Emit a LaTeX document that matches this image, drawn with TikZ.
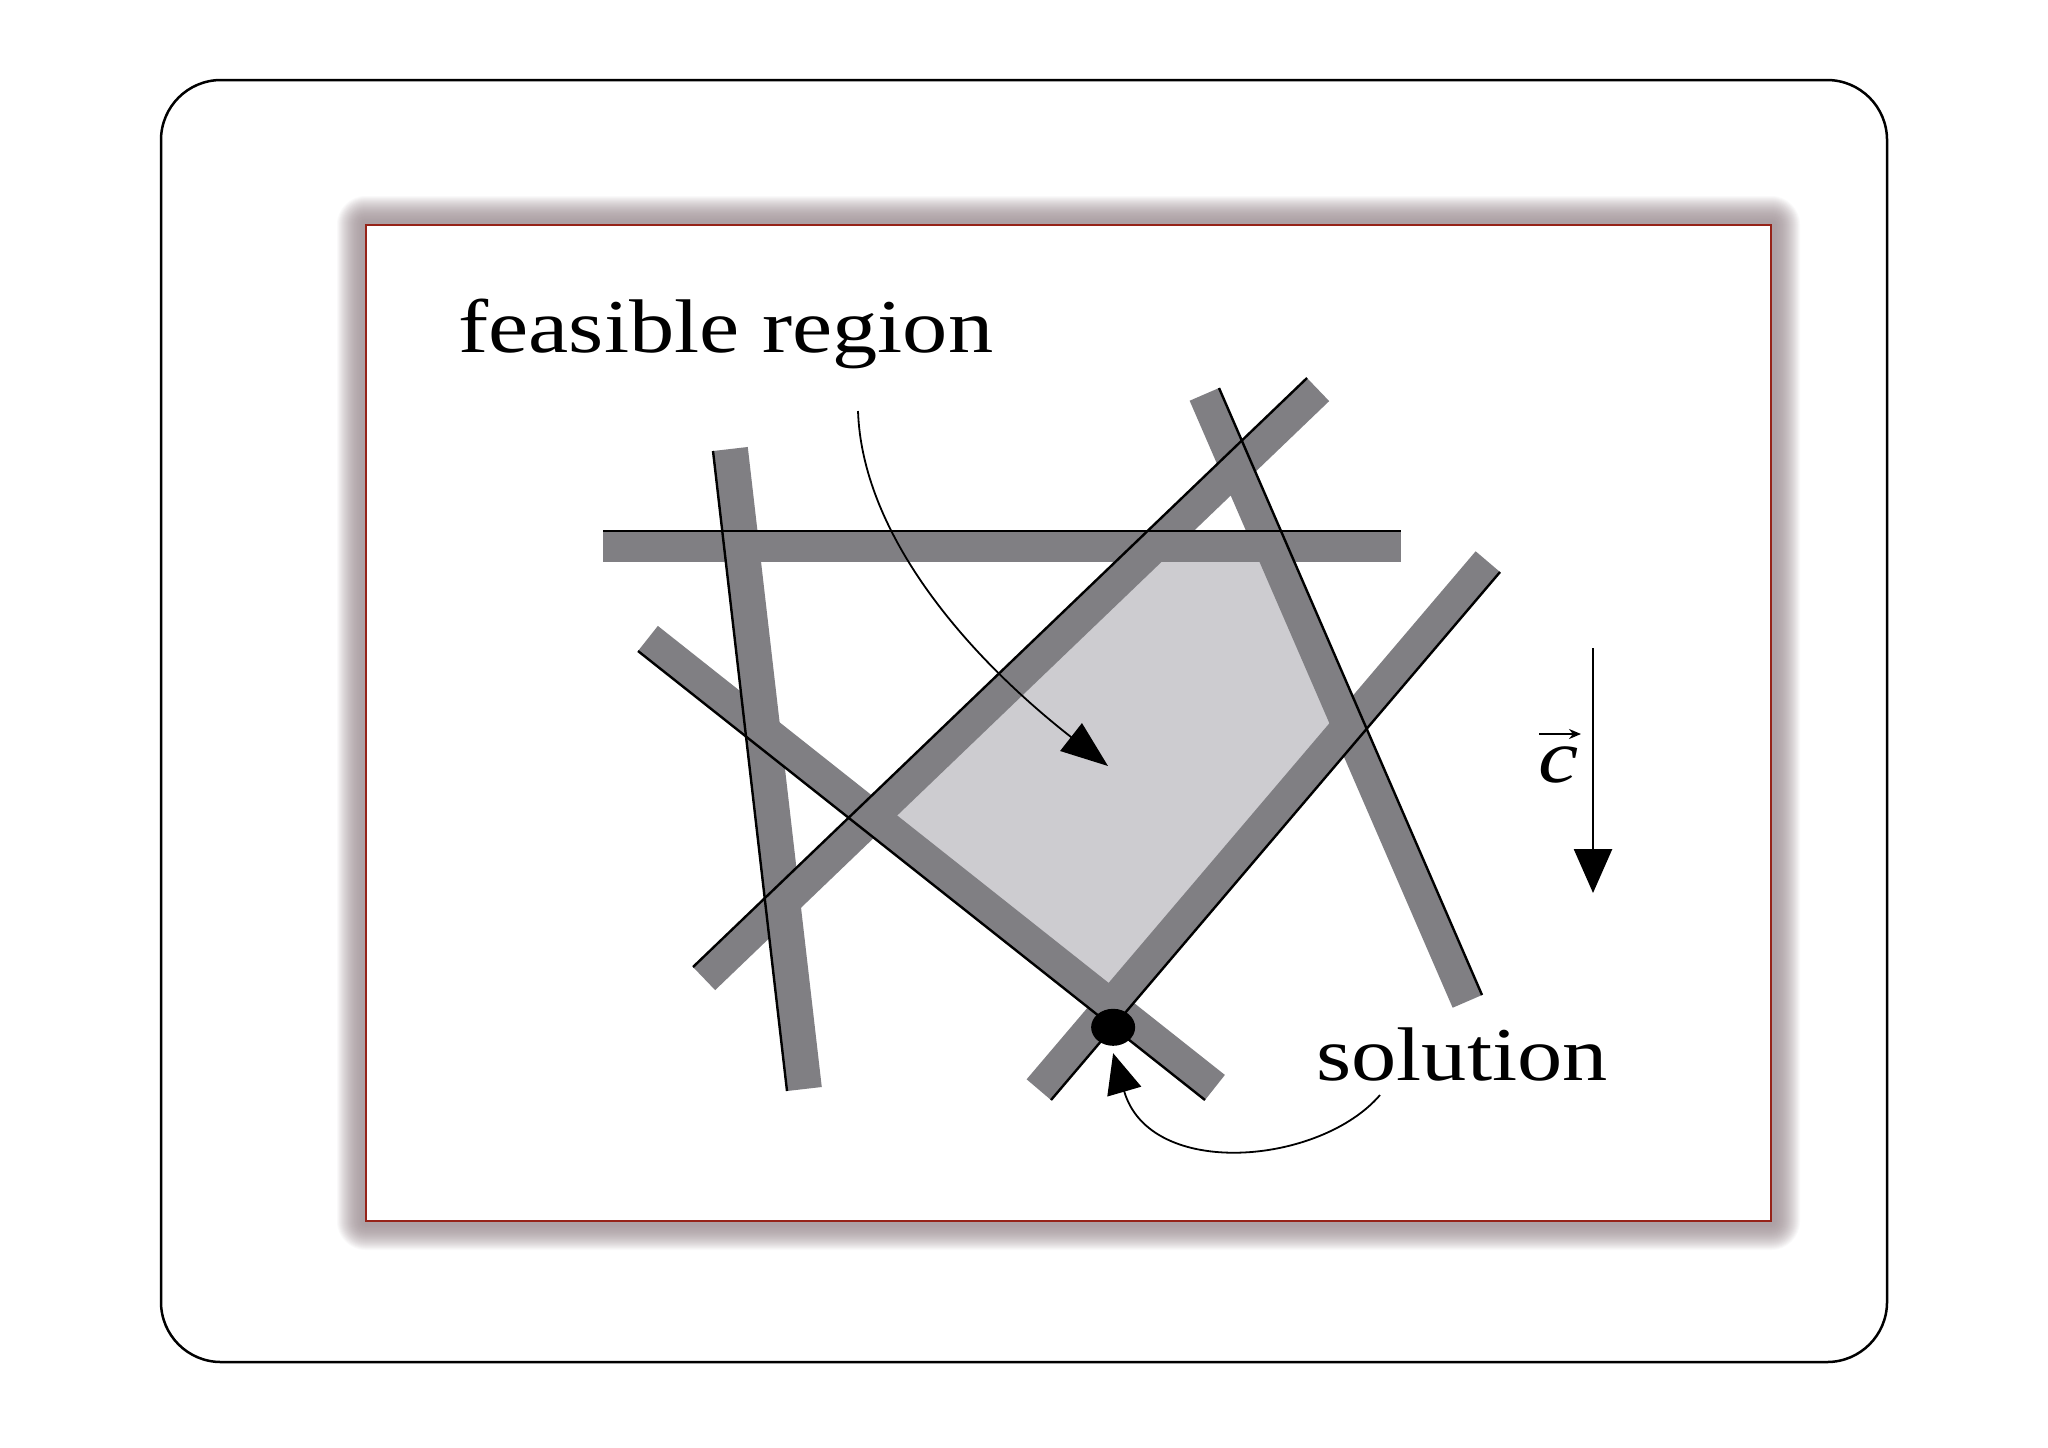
\documentclass[tikz,border=0pt]{standalone}
\usepackage{fontspec}
\setmainfont{Liberation Serif}
\usetikzlibrary{calc,arrows.meta,shapes.geometric}
\definecolor{shc}{RGB}{172,160,164}
\definecolor{framered}{RGB}{150,35,25}
\definecolor{bandc}{RGB}{128,127,131}
\definecolor{regionc}{RGB}{205,204,208}
\tikzset{
  lbl/.style={inner sep=0pt, font=\fontsize{38pt}{40pt}\selectfont},
  edgeline/.style={line width=1.2pt, black},
  pointer/.style={line width=0.9pt},
}
% band: P1, P2, angle, -angle, width
\newcommand\lpband[5]{%
  \fill[bandc] (#1) -- (#2) -- ($(#2)!#5!#3:(#1)$) -- ($(#1)!#5!#4:(#2)$) -- cycle;}
\begin{document}
\begin{tikzpicture}[x=0.5pt,y=-0.5pt]
\useasboundingbox (0,0) rectangle (2048,1447);
\fill[white] (0,0) rectangle (2048,1447);
% outer frame
\draw[line width=1.25pt, rounded corners=30pt] (161,80) rectangle (1887,1362);
% glow around picture
\foreach \k in {30,29,...,1}{%
  \pgfmathtruncatemacro\p{100*(1-(\k/30)^2)}
  \pgfmathsetmacro\r{0.5*\k}
  \fill[shc!\p!white, rounded corners=\r pt] (366-\k,225-\k) rectangle (1771+\k,1221+\k);
}
\fill[white] (366,225) rectangle (1771,1221);
\draw[framered, line width=1.3pt] (366,225) rectangle (1771,1221);
% constraint lines
\coordinate (h1) at (603,531);  \coordinate (h2) at (1401,531);
\coordinate (l1) at (713,451);  \coordinate (l2) at (787,1091);
\coordinate (d1) at (638,651);  \coordinate (d2) at (1205,1100);
\coordinate (u1) at (693,967);  \coordinate (u2) at (1307,378);
\coordinate (s1) at (1219,388); \coordinate (s2) at (1482,995);
\coordinate (w1) at (1051,1100); \coordinate (w2) at (1500,572);
% feasible region
\fill[regionc] (intersection of u1--u2 and h1--h2) -- (intersection of h1--h2 and s1--s2)
  -- (intersection of s1--s2 and w1--w2) -- (intersection of w1--w2 and d1--d2)
  -- (intersection of d1--d2 and u1--u2) -- cycle;
% bands
\lpband{h1}{h2}{90}{-90}{15.5pt}
\lpband{l1}{l2}{-90}{90}{17.5pt}
\lpband{d1}{d2}{-90}{90}{16pt}
\lpband{u1}{u2}{90}{-90}{16pt}
\lpband{s1}{s2}{90}{-90}{16pt}
\lpband{w1}{w2}{-90}{90}{16pt}
% black lines
\draw[edgeline] (h1) -- (h2);
\draw[edgeline] (l1) -- (l2);
\draw[edgeline] (d1) -- (d2);
\draw[edgeline] (u1) -- (u2);
\draw[edgeline] (s1) -- (s2);
\draw[edgeline] (w1) -- (w2);
% solution dot
\node[ellipse, fill=black, minimum width=22pt, minimum height=18.5pt, inner sep=0pt] (sol)
  at (intersection of w1--w2 and d1--d2) {};
% labels
\node[lbl, anchor=base west] (ftext) at (458,352) {\scalebox{1.19}[1]{feasible region}};
\node[lbl, anchor=base west] (stext) at (1316,1080) {\scalebox{1.19}[1]{solution}};
\node[lbl, anchor=base west] (ctext) at (1538,782) {\scalebox{1.19}[1]{\itshape c}};
\draw[line width=1.1pt, -{Stealth[length=6pt,width=5pt]}]
  ($(ctext.base west)+(1,-48)$) -- ($(ctext.base west)+(43,-48)$);
% objective arrow
\coordinate (ctop) at (1593,648);
\coordinate (cbot) at (1593,893);
\draw[line width=1.3pt, -{Triangle[length=22pt,width=19pt]}] (ctop) -- (cbot);
% pointer arrows
\coordinate (fstart) at (858,411);
\coordinate (ftip) at (1108,766);
\draw[pointer, -{Triangle[length=23.5pt,width=17.5pt]}]
  (fstart) .. controls (862,530) and (960,650) .. (ftip);
\coordinate (sstart) at (1380,1095);
\coordinate (stip) at ($(sol.south)+(0,7)$);
\draw[pointer, -{Triangle[length=20pt,width=17.5pt]}]
  (sstart) .. controls (1320,1165) and (1150,1180) .. (stip);
\end{tikzpicture}
\end{document}
